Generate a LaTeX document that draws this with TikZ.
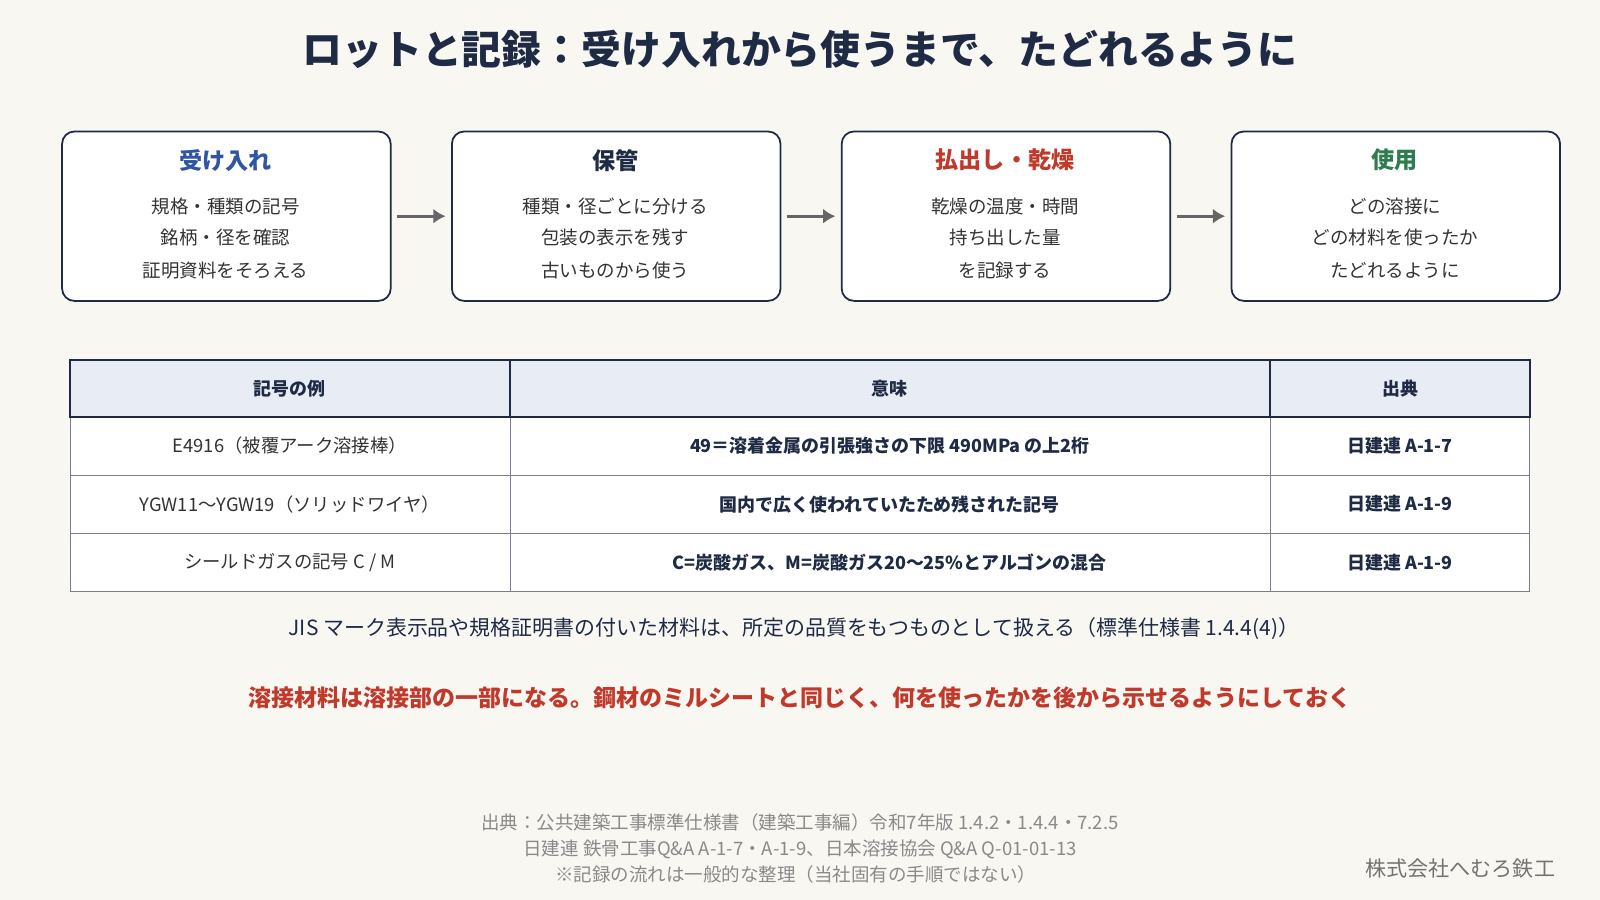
\documentclass[tikz,border=0pt]{standalone}
\usepackage{fontspec}
\setmainfont{Noto Sans CJK JP}
\usetikzlibrary{arrows.meta}
\definecolor{bg}{HTML}{F8F7F2}
\definecolor{navy}{HTML}{1F2A44}
\definecolor{tblue}{HTML}{2F55A4}
\definecolor{tred}{HTML}{C0392B}
\definecolor{tgreen}{HTML}{2E7D4F}
\definecolor{hdr}{HTML}{E8EDF5}
\definecolor{gry}{HTML}{8A8A8A}
\definecolor{body}{HTML}{333333}
\begin{document}
\begin{tikzpicture}[x=0.75pt,y=-0.75pt,
 box/.style={draw=navy,line width=1.3pt,rounded corners=9pt,fill=white},
 head/.style={font=\fontsize{17}{20}\selectfont\bfseries},
 bl/.style={font=\fontsize{13.6}{16}\selectfont,text=body},
 arr/.style={draw=gray!80!black,line width=2.4pt,-{Latex[length=9pt,width=11pt]}},
 cell/.style={font=\fontsize{13.5}{15}\selectfont,text=body},
 bcell/.style={font=\fontsize{13.2}{15}\selectfont\bfseries,text=navy},
 foot/.style={font=\fontsize{13.6}{15}\selectfont,text=gry}]
\fill[bg] (0,0) rectangle (1568,882);
\useasboundingbox (0,0) rectangle (1568,882);
\node[font=\fontsize{29.3}{32}\selectfont\bfseries,text=navy] (title) at (784,48) {ロットと記録：受け入れから使うまで、たどれるように};
\foreach \i/\x/\h/\c/\a/\b/\d in {
 1/60/受け入れ/tblue/規格・種類の記号/銘柄・径を確認/証明資料をそろえる,
 2/442/保管/navy/種類・径ごとに分ける/包装の表示を残す/古いものから使う,
 3/824/払出し・乾燥/tred/乾燥の温度・時間/持ち出した量/を記録する,
 4/1206/使用/tgreen/どの溶接に/どの材料を使ったか/たどれるように}{
 \node[box,minimum width=322*0.75pt,minimum height=166*0.75pt,anchor=north west] (b\i) at (\x,128) {};
 \node[head,text=\c] (h\i) at (\x+161,157) {\h};
 \node[bl] (l\i a) at (\x+161,202) {\a};
 \node[bl] (l\i b) at (\x+161,233) {\b};
 \node[bl] (l\i c) at (\x+161,265) {\d};
}
\draw[arr] ([xshift=4pt]b1.east) -- ([xshift=-4pt]b2.west);
\draw[arr] ([xshift=4pt]b2.east) -- ([xshift=-4pt]b3.west);
\draw[arr] ([xshift=4pt]b3.east) -- ([xshift=-4pt]b4.west);
% table
\fill[hdr] (69,353) rectangle (1499,409);
\fill[white] (69,409) rectangle (1499,580);
\draw[navy!60,line width=0.7pt] (69,466) -- (1499,466) (69,523) -- (1499,523) (500,409) -- (500,580) (1245,409) -- (1245,580) (69,409) rectangle (1499,580);
\draw[navy,line width=1.5pt] (69,353) rectangle (1499,409) (500,353) -- (500,409) (1245,353) -- (1245,409);
\node[bcell] (t00) at (284,381) {記号の例};
\node[bcell] (t01) at (872,381) {意味};
\node[bcell] (t02) at (1372,381) {出典};
\node[cell] (t10) at (284,437) {E4916（被覆アーク溶接棒）};
\node[bcell] (t11) at (872,437) {49＝溶着金属の引張強さの下限 490MPa の上2桁};
\node[bcell] (t12) at (1372,437) {日建連 A-1-7};
\node[cell] (t20) at (284,494) {YGW11〜YGW19（ソリッドワイヤ）};
\node[bcell] (t21) at (872,494) {国内で広く使われていたため残された記号};
\node[bcell] (t22) at (1372,494) {日建連 A-1-9};
\node[cell] (t30) at (284,551) {シールドガスの記号 C / M};
\node[bcell] (t31) at (872,551) {C=炭酸ガス、M=炭酸ガス20〜25\%とアルゴンの混合};
\node[bcell] (t32) at (1372,551) {日建連 A-1-9};
\node[font=\fontsize{15.4}{17}\selectfont,text=navy] (note) at (778,616) {JIS マーク表示品や規格証明書の付いた材料は、所定の品質をもつものとして扱える（標準仕様書 1.4.4(4)）};
\node[font=\fontsize{16.9}{19}\selectfont\bfseries,text=tred] (warn) at (784,684) {溶接材料は溶接部の一部になる。鋼材のミルシートと同じく、何を使ったかを後から示せるようにしておく};
\node[foot] (f1) at (784,806) {出典：公共建築工事標準仕様書（建築工事編）令和7年版 1.4.2・1.4.4・7.2.5};
\node[foot] (f2) at (784,832) {日建連 鉄骨工事Q\&A A-1-7・A-1-9、日本溶接協会 Q\&A Q-01-01-13};
\node[foot] (f3) at (780,857) {※記録の流れは一般的な整理（当社固有の手順ではない）};
\node[font=\fontsize{15.5}{18}\selectfont,text=gray!90!black] (co) at (1431,851) {株式会社へむろ鉄工};
\end{tikzpicture}
\end{document}
